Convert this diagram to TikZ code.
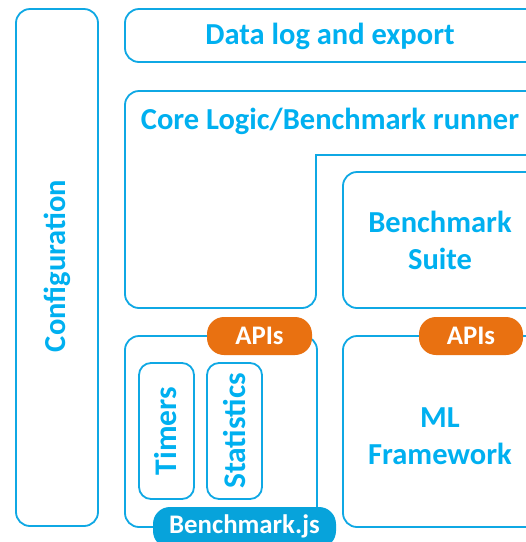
\documentclass[tikz,border=0pt]{standalone}
\usepackage{fontspec}
\setmainfont{Carlito}
\definecolor{skyline}{HTML}{0FA8E4}
\definecolor{skytext}{HTML}{00B0F0}
\definecolor{apiorange}{HTML}{E97111}
\definecolor{jsblue}{HTML}{07A3DB}
\tikzset{
  box/.style={draw=skyline, line width=1.8pt, rounded corners=14pt},
  smallbox/.style={draw=skyline, line width=1.8pt, rounded corners=12pt},
  label/.style={text=skytext, font=\bfseries\fontsize{30.5}{37}\selectfont, align=center, inner sep=0pt},
  biglabel/.style={label, font=\bfseries\fontsize{31.5}{37}\selectfont},
  pilltext/.style={text=white, font=\bfseries\fontsize{26.8}{30}\selectfont, inner sep=0pt},
}
\begin{document}
\begin{tikzpicture}[x=1pt, y=-1pt]
\useasboundingbox (0,0) rectangle (526,542);
\clip (0,0) rectangle (526,542);
\fill[white] (0,0) rectangle (526,542);

% side bar: configuration
\draw[box] (16,9) rectangle (98,526);
\node[label, rotate=90] (config) at (57,266) {Configuration};

% data log
\draw[box] (125,9) rectangle (545,62);
\node[label] (datalog) at (330,36) {Data log and export};

% core logic: L-shaped frame, sharp inner corner
\draw[box] (316,308) -- (125,308) -- (125,91) -- (545,91) -- (545,155)
  [sharp corners] -- (316,155) [rounded corners=14pt] -- cycle;
\node[label] (core) at (330,121) {Core Logic/Benchmark runner};

% benchmark suite
\draw[box] (343,172) rectangle (545,308);
\node[label] (suite) at (440,240) {Benchmark\\Suite};

% benchmark.js
\draw[box] (125,336) rectangle (317,527);
\draw[smallbox] (139,363) rectangle (194,499);
\draw[smallbox] (207,363) rectangle (262,499);
\node[biglabel, rotate=90] (timers) at (166,431) {Timers};
\node[biglabel, rotate=90] (stats) at (235,431) {Statistics};

% ML framework
\draw[box] (343,336) rectangle (545,527);
\node[label] (ml) at (440,436) {ML\\Framework};

% API tabs
\fill[apiorange, rounded corners=17pt] (207,317) rectangle (312,355);
\node[pilltext] (api1) at (259.5,336) {APIs};
\fill[apiorange, rounded corners=17pt] (419,317) rectangle (523,355);
\node[pilltext] (api2) at (471,336) {APIs};

% benchmark.js tab
\fill[jsblue, rounded corners=17pt] (153,507) rectangle (336,548);
\node[pilltext] (bjs) at (244.5,526) {Benchmark.js};
\end{tikzpicture}
\end{document}
